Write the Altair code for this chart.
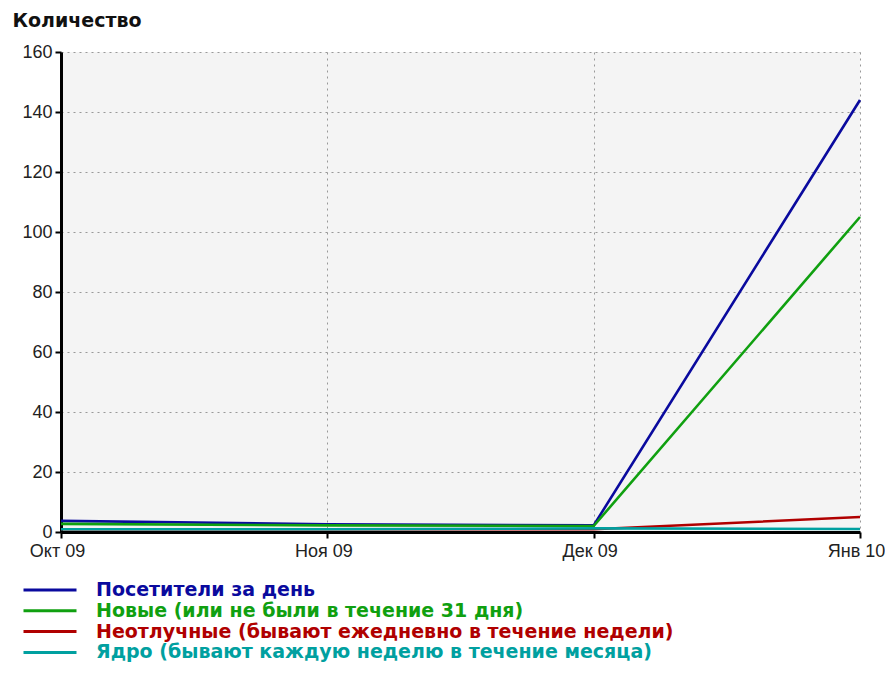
import altair as alt
import pandas as pd

months = ["Окт 09", "Ноя 09", "Дек 09", "Янв 10"]
series = [
    "Посетители за день",
    "Новые (или не были в течение 31 дня)",
    "Неотлучные (бывают ежедневно в течение недели)",
    "Ядро (бывают каждую неделю в течение месяца)",
]
visitors = [3.7, 2.6, 2.2, 144]
new_visitors = [2.7, 2.2, 2.0, 105]
regular = [0.9, 0.9, 0.9, 5]
core = [0.9, 0.9, 1.2, 1.0]
colors = ["#0a0a9e", "#10a010", "#b00000", "#00a0a0"]
y_ticks = [0, 20, 40, 60, 80, 100, 120, 140, 160]

rows = []
for name, vals in zip(series, [visitors, new_visitors, regular, core]):
    for m, v in zip(months, vals):
        rows.append({"month": m, "value": v, "series": name, "order": series.index(name)})
df = pd.DataFrame(rows)

chart = (
    alt.Chart(df)
    .mark_line(strokeWidth=2.6)
    .encode(
        x=alt.X(
            "month:O",
            sort=months,
            scale=alt.Scale(type="point", padding=0),
            axis=alt.Axis(
                title=None,
                labelAngle=0,
                grid=True,
                gridDash=[2, 4],
                gridColor="#999999",
                gridWidth=1,
                domainColor="black",
                domainWidth=3,
                tickColor="black",
                tickWidth=2,
                tickSize=6,
                labelPadding=4,
                labelOffset=-4,
                labelFont="Liberation Sans",
                labelFontSize=18,
                labelColor="#222222",
            ),
        ),
        y=alt.Y(
            "value:Q",
            scale=alt.Scale(domain=[0, 160], nice=False),
            axis=alt.Axis(
                values=y_ticks,
                title="Количество",
                titleAngle=0,
                titleAlign="left",
                titleBaseline="alphabetic",
                titleX=-49,
                titleY=-26,
                titleFont="DejaVu Sans",
                titleFontSize=19,
                titleFontWeight="bold",
                titleColor="#111111",
                grid=True,
                gridDash=[2, 4],
                gridColor="#999999",
                gridWidth=1,
                domainColor="black",
                domainWidth=3,
                tickColor="black",
                tickWidth=2,
                tickSize=6,
                labelPadding=3,
                labelFont="Liberation Sans",
                labelFontSize=18,
                labelColor="#222222",
            ),
        ),
        color=alt.Color(
            "series:N",
            sort=series,
            scale=alt.Scale(domain=series, range=colors),
            legend=alt.Legend(
                title=None,
                orient="none",
                legendX=-39,
                legendY=528,
                padding=0,
                symbolType="M-1,0H4.3",
                symbolSize=400,
                symbolStrokeWidth=3,
                symbolFillColor="transparent",
                labelFont="DejaVu Sans",
                labelFontSize=19,
                labelFontWeight="bold",
                labelOffset=51,
                labelLimit=800,
                clipHeight=20,
                rowPadding=0.8,
                labelColor={"expr": "scale('color', datum.value)"},
            ),
        ),
        order=alt.Order("order:Q"),
    )
    .properties(
        width=799,
        height=480,
        autosize=alt.AutoSizeParams(type="none"),
        padding={"left": 53, "top": 44, "right": 25, "bottom": 130},
    )
    .configure_view(fill="#f4f4f4", stroke=None)
)

chart.save("out.html", embed_options={"renderer": "svg", "actions": False})
